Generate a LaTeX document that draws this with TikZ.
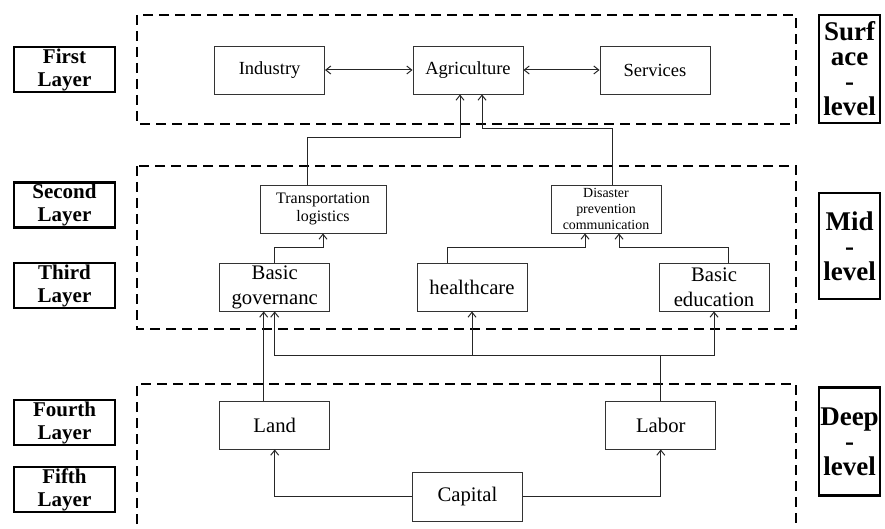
\documentclass[tikz,border=0pt]{standalone}
\usepackage{fontspec}
\setmainfont{Liberation Serif}
\usetikzlibrary{arrows.meta}

\begin{document}
\begin{tikzpicture}[x=1pt,y=-1pt,
    >={Straight Barb[length=5pt,width=8pt]},
    box/.style={draw=black!80,line width=0.9pt,minimum width=110pt,minimum height=48pt,align=center,inner sep=1pt},
    layerlabel/.style={draw,line width=2.4pt,minimum width=101pt,minimum height=45pt,align=center,inner sep=0pt,font=\bfseries\fontsize{21}{23}\selectfont},
    levellabel/.style={draw,line width=2.4pt,minimum width=61pt,align=center,inner sep=0pt,font=\bfseries\fontsize{27}{25}\selectfont},
    dashbox/.style={line width=2.4pt,dash pattern=on 10pt off 6pt},
    link/.style={draw=black!85,line width=1pt}]
  \useasboundingbox (0,0) rectangle (885,529);

  % the three levels
  \draw[dashbox] (137,15) rectangle (796,124);
  \draw[dashbox] (137,166) rectangle (796,329);
  \draw[dashbox] (137,540) -- (137,384) -- (796,384) -- (796,540);

  % layer names on the left, levels on the right
  \node[layerlabel] (l1) at (64.5,69.5) {First\\Layer};
  \node[layerlabel] (l2) at (64.5,205) {Second\\Layer};
  \node[layerlabel] (l3) at (64.5,285.5) {Third\\Layer};
  \node[layerlabel] (l4) at (64.5,422.5) {Fourth\\Layer};
  \node[layerlabel] (l5) at (64.5,489.5) {Fifth\\Layer};
  \node[levellabel,minimum height=108pt] (surf) at (849.5,69) {Surf\\ace\\-\\level};
  \node[levellabel,minimum height=106pt] (mid) at (849.5,246) {Mid\\-\\level};
  \node[levellabel,minimum height=108pt] (deep) at (849.5,441.5) {Deep\\-\\level};

  % first layer
  \begin{scope}[every node/.append style={font=\fontsize{18.5}{21}\selectfont}]
    \node[box] (industry) at (269.6,70) {Industry};
    \node[box] (agri) at (468,70) {Agriculture};
    \node[box] (services) at (655,70) {Services};
  \end{scope}
  % second layer
  \node[box,minimum width=126pt,font=\fontsize{16}{18}\selectfont] (transport) at (323,209) {Transportation\\logistics};
  \node[box,font=\fontsize{13.9}{16}\selectfont] (disaster) at (606,209) {Disaster\\prevention\\communication};
  % third layer
  \begin{scope}[every node/.append style={font=\fontsize{20.7}{25}\selectfont}]
    \node[box] (gov) at (274.7,287) {Basic\\governanc};
    \node[box] (health) at (472,287) {healthcare};
    \node[box] (edu) at (714,287) {Basic\\education};
    \node[box] (land) at (274.7,425) {Land};
    \node[box] (labor) at (660.8,425) {Labor};
    \node[box,minimum height=49pt] (capital) at (467.4,496.5) {Capital};
  \end{scope}

  \draw[link,<->] (industry) -- (agri);
  \draw[link,<->] (agri) -- (services);
  \draw[link,->] ([xshift=-16pt]transport.north) -- ++(0,-47) -| ([xshift=-8pt]agri.south);
  \draw[link,->] ([xshift=6pt]disaster.north) -- ++(0,-56) -| ([xshift=14pt]agri.south);
  \draw[link,->] (gov.north) -- ++(0,-15) -| (transport.south);
  \draw[link,->] ([xshift=-25pt]health.north) -- ++(0,-15) -| ([xshift=-21pt]disaster.south);
  \draw[link,->] ([xshift=14pt]edu.north) -- ++(0,-15) -| ([xshift=13pt]disaster.south);
  \draw[link,->] ([xshift=-11pt]land.north) -- ([xshift=-11pt]gov.south);
  \draw[link] (labor.north) -- ++(0,-45) coordinate (hub);
  \draw[link,->] (hub) -| (gov.south);
  \draw[link,->] (hub) -| (edu.south);
  \draw[link,->] (health.south |- hub) -- (health.south);
  \draw[link,->] (capital.west) -| (land.south);
  \draw[link,->] (capital.east) -| (labor.south);
\end{tikzpicture}
\end{document}
